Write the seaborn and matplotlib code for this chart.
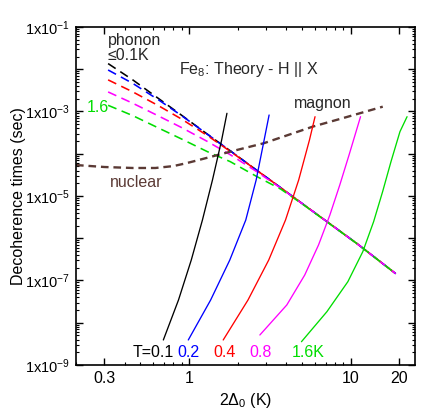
import numpy as np
import pandas as pd
import matplotlib
matplotlib.use("Agg")
import matplotlib.pyplot as plt
import matplotlib.ticker as mticker
import seaborn as sns

# temperatures and colours
temps = ["0.1", "0.2", "0.4", "0.8", "1.6"]
colors = ["#000000", "#0000ff", "#ff0000", "#ff00ff", "#00dd00"]

# steep solid curves, one per temperature (x = 2Delta0 in K, y in sec)
solid_x = {
    "0.1": [0.694, 0.861, 1.033, 1.211, 1.397, 1.592, 1.717],
    "0.2": [0.990, 1.361, 1.788, 2.245, 2.603, 2.916, 3.130],
    "0.4": [1.628, 2.317, 3.113, 3.954, 4.769, 5.561, 6.021],
    "0.8": [2.744, 4.026, 5.200, 6.327, 7.439, 8.565, 9.774, 11.11, 11.51],
    "1.6": [4.963, 7.132, 9.610, 11.89, 13.87, 15.76, 17.76, 20.18, 22.33],
}
solid_y = {
    "0.1": [3.91e-9, 3.45e-8, 3.05e-7, 2.70e-6, 2.39e-5, 2.11e-4, 9.06e-4],
    "0.2": [3.91e-9, 3.45e-8, 3.05e-7, 2.70e-6, 2.39e-5, 2.11e-4, 8.26e-4],
    "0.4": [3.91e-9, 3.45e-8, 3.05e-7, 2.70e-6, 2.39e-5, 2.11e-4, 7.53e-4],
    "0.8": [5.13e-9, 2.63e-8, 1.35e-7, 6.92e-7, 3.55e-6, 1.82e-5, 9.34e-5, 4.79e-4, 7.53e-4],
    "1.6": [3.56e-9, 1.83e-8, 9.37e-8, 4.81e-7, 2.47e-6, 1.26e-5, 6.49e-5, 3.33e-4, 7.53e-4],
}

# dashed phonon curves
phonon_x = [0.316, 0.45, 0.65, 0.9, 1.3, 1.8, 2.6, 3.7, 5.2, 7.5, 11, 19]
phonon_y = {
    "0.1": [1.36e-2, 5.56e-3, 2.01e-3, 8.15e-4, 2.90e-4, 1.17e-4, 4.17e-5, 1.56e-5, 5.98e-6, 2.15e-6, 7.36e-7, 1.45e-7],
    "0.2": [9.6e-3, 4.60e-3, 1.87e-3, 7.97e-4, 2.89e-4, 1.17e-4, 4.17e-5, 1.56e-5, 5.98e-6, 2.15e-6, 7.36e-7, 1.45e-7],
    "0.4": [5.6e-3, 2.90e-3, 1.36e-3, 6.60e-4, 2.69e-4, 1.14e-4, 4.16e-5, 1.56e-5, 5.98e-6, 2.15e-6, 7.36e-7, 1.45e-7],
    "0.8": [2.9e-3, 1.56e-3, 7.78e-4, 4.16e-4, 1.95e-4, 9.48e-5, 3.86e-5, 1.53e-5, 5.96e-6, 2.15e-6, 7.36e-7, 1.45e-7],
    "1.6": [1.4e-3, 7.95e-4, 4.04e-4, 2.23e-4, 1.12e-4, 6.5e-5, 2.95e-5, 1.45e-5, 5.9e-6, 2.12e-6, 7.35e-7, 1.45e-7],
}

# nuclear / magnon dashed curve
nuclear_x = [0.2, 0.3, 0.45, 0.62, 0.8, 0.95, 1.1, 1.5, 2.0, 2.9, 3.9, 5.85, 9.0, 15.8]
nuclear_y = [5.4e-5, 4.85e-5, 4.6e-5, 4.6e-5, 5.1e-5, 5.9e-5, 6.8e-5, 9.3e-5,
             1.24e-4, 1.77e-4, 2.6e-4, 4.4e-4, 7.0e-4, 1.3e-3]

solid_df = pd.DataFrame(
    [(t, x, y) for t in temps for x, y in zip(solid_x[t], solid_y[t])],
    columns=["T", "x", "y"])
phonon_df = pd.DataFrame(
    [(t, x, y) for t in temps for x, y in zip(phonon_x, phonon_y[t])],
    columns=["T", "x", "y"])
nuclear_df = pd.DataFrame({"x": nuclear_x, "y": nuclear_y})

sns.set_theme(style="ticks")
plt.rcParams["font.family"] = ["Liberation Sans", "DejaVu Sans"]
plt.rcParams["mathtext.default"] = "regular"
plt.rcParams["lines.scale_dashes"] = False

palette = dict(zip(temps, colors))
fs = 11.5

fig = plt.figure(figsize=(4.36, 4.19), dpi=100)
ax = fig.add_axes([0.1743, 0.1289, 0.7775, 0.8067])

sns.lineplot(data=phonon_df, x="x", y="y", hue="T", hue_order=temps, palette=palette,
             linewidth=1.15, linestyle=(0, (6.5, 4)), legend=False, ax=ax)
sns.lineplot(data=nuclear_df, x="x", y="y", color="#5b3a35", linewidth=1.7,
             linestyle=(0, (5.5, 3.5)), legend=False, ax=ax)
sns.lineplot(data=solid_df, x="x", y="y", hue="T", hue_order=temps, palette=palette,
             linewidth=0.95, legend=False, ax=ax)

ax.set_xscale("log")
ax.set_yscale("log")
ax.set_xlim(0.2, 25)
ax.set_ylim(1e-9, 1e-1)

ax.xaxis.set_major_locator(mticker.FixedLocator([0.3, 1, 10, 20]))
ax.xaxis.set_major_formatter(mticker.FixedFormatter(["0.3", "1", "10", "20"]))
ax.xaxis.set_minor_locator(mticker.LogLocator(base=10, subs=np.arange(2, 10), numticks=20))
ax.xaxis.set_minor_formatter(mticker.NullFormatter())

ax.yaxis.set_major_locator(mticker.LogLocator(base=10, numticks=20))
ax.yaxis.set_minor_locator(mticker.LogLocator(base=10, subs=np.arange(2, 10), numticks=20))
ax.yaxis.set_minor_formatter(mticker.NullFormatter())


def ylab(v, pos):
    e = int(round(np.log10(v)))
    if e % 2 != 0:
        return "1x10$^{%d}$" % e
    return ""


ax.yaxis.set_major_formatter(mticker.FuncFormatter(ylab))

ax.tick_params(which="both", direction="in", top=True, right=True, color="black",
               labelcolor="black")
ax.tick_params(axis="y", labelsize=10.5)
ax.tick_params(axis="x", labelsize=fs)
ax.tick_params(which="major", length=5, width=1.0, pad=4)
ax.tick_params(which="minor", length=2.5, width=0.8)
for s in ax.spines.values():
    s.set_linewidth(1.2)
    s.set_color("black")

ax.set_xlabel("2$\\Delta_0$ (K)", fontsize=fs, color="black")
ax.set_ylabel("Decoherence times (sec)", fontsize=fs, color="black")
ax.yaxis.set_label_coords(-0.147, 0.5)

tr = ax.transAxes
ax.text(0.094, 0.959, "phonon", transform=tr, fontsize=fs, va="center")
ax.text(0.094, 0.917, "≤0.1K", transform=tr, fontsize=fs, va="center")
ax.text(0.304, 0.873, "Fe$_8$: Theory - H || X", transform=tr, fontsize=fs, va="center")
ax.text(0.032, 0.763, "1.6", transform=tr, fontsize=fs, va="center", color=colors[4])
ax.text(0.643, 0.775, "magnon", transform=tr, fontsize=fs, va="center")
ax.text(0.100, 0.541, "nuclear", transform=tr, fontsize=fs, va="center", color="#5b3a35")

ax.text(0.168, 0.036, "T=0.1", transform=tr, fontsize=fs, va="center", color=colors[0])
ax.text(0.298, 0.036, "0.2", transform=tr, fontsize=fs, va="center", color=colors[1])
ax.text(0.404, 0.036, "0.4", transform=tr, fontsize=fs, va="center", color=colors[2])
ax.text(0.510, 0.036, "0.8", transform=tr, fontsize=fs, va="center", color=colors[3])
ax.text(0.637, 0.036, "1.6K", transform=tr, fontsize=fs, va="center", color=colors[4])

fig.savefig("out.png", dpi=100, facecolor="white")
